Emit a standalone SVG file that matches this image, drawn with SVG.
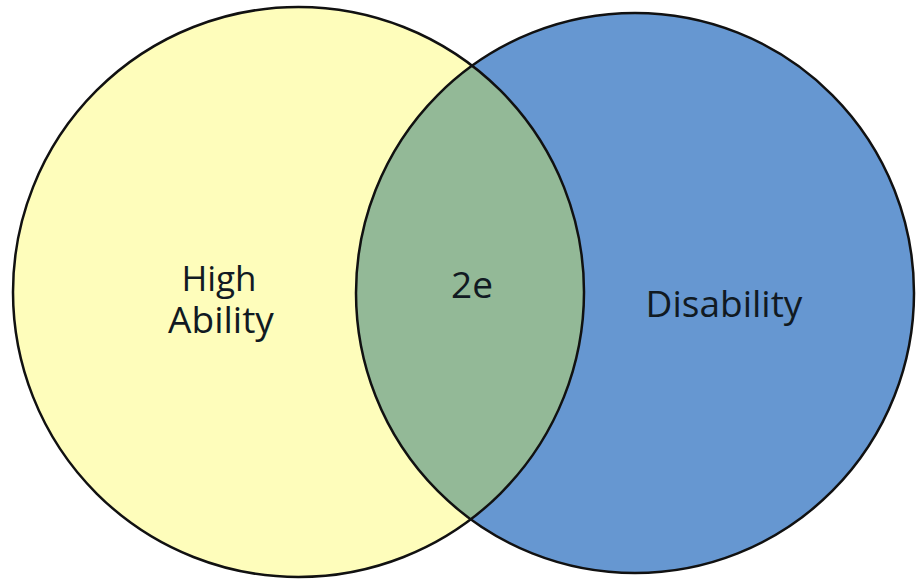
<svg xmlns="http://www.w3.org/2000/svg" width="916" height="579" viewBox="0 0 916 579">
<style>
.lbl{font-family:"Open Sans","Liberation Sans",sans-serif;font-size:37px;fill:#111a22;text-anchor:middle}
.sm{font-size:35px}
.ring{fill:none;stroke:#111;stroke-width:2.5}
</style>
<defs>
<clipPath id="clipL"><ellipse cx="298.5" cy="292" rx="285.5" ry="285"/></clipPath>
</defs>
<rect width="916" height="579" fill="#ffffff"/>
<g id="high-ability">
<ellipse cx="298.5" cy="292" rx="285.5" ry="285" fill="#fefdbb"/>
</g>
<g id="disability">
<ellipse cx="635" cy="293" rx="279" ry="280" fill="#6697d1"/>
</g>
<g id="overlap-2e">
<ellipse cx="635" cy="293" rx="279" ry="280" fill="#93b997" clip-path="url(#clipL)"/>
</g>
<g id="outlines">
<ellipse class="ring" cx="298.5" cy="292" rx="285.5" ry="285"/>
<ellipse class="ring" cx="635" cy="293" rx="279" ry="280"/>
</g>
<g id="labels">
<text class="lbl sm" x="219" y="291">High</text>
<text class="lbl" x="221" y="333">Ability</text>
<text class="lbl" x="472" y="298">2e</text>
<text class="lbl" x="724" y="317">Disability</text>
</g>
</svg>
